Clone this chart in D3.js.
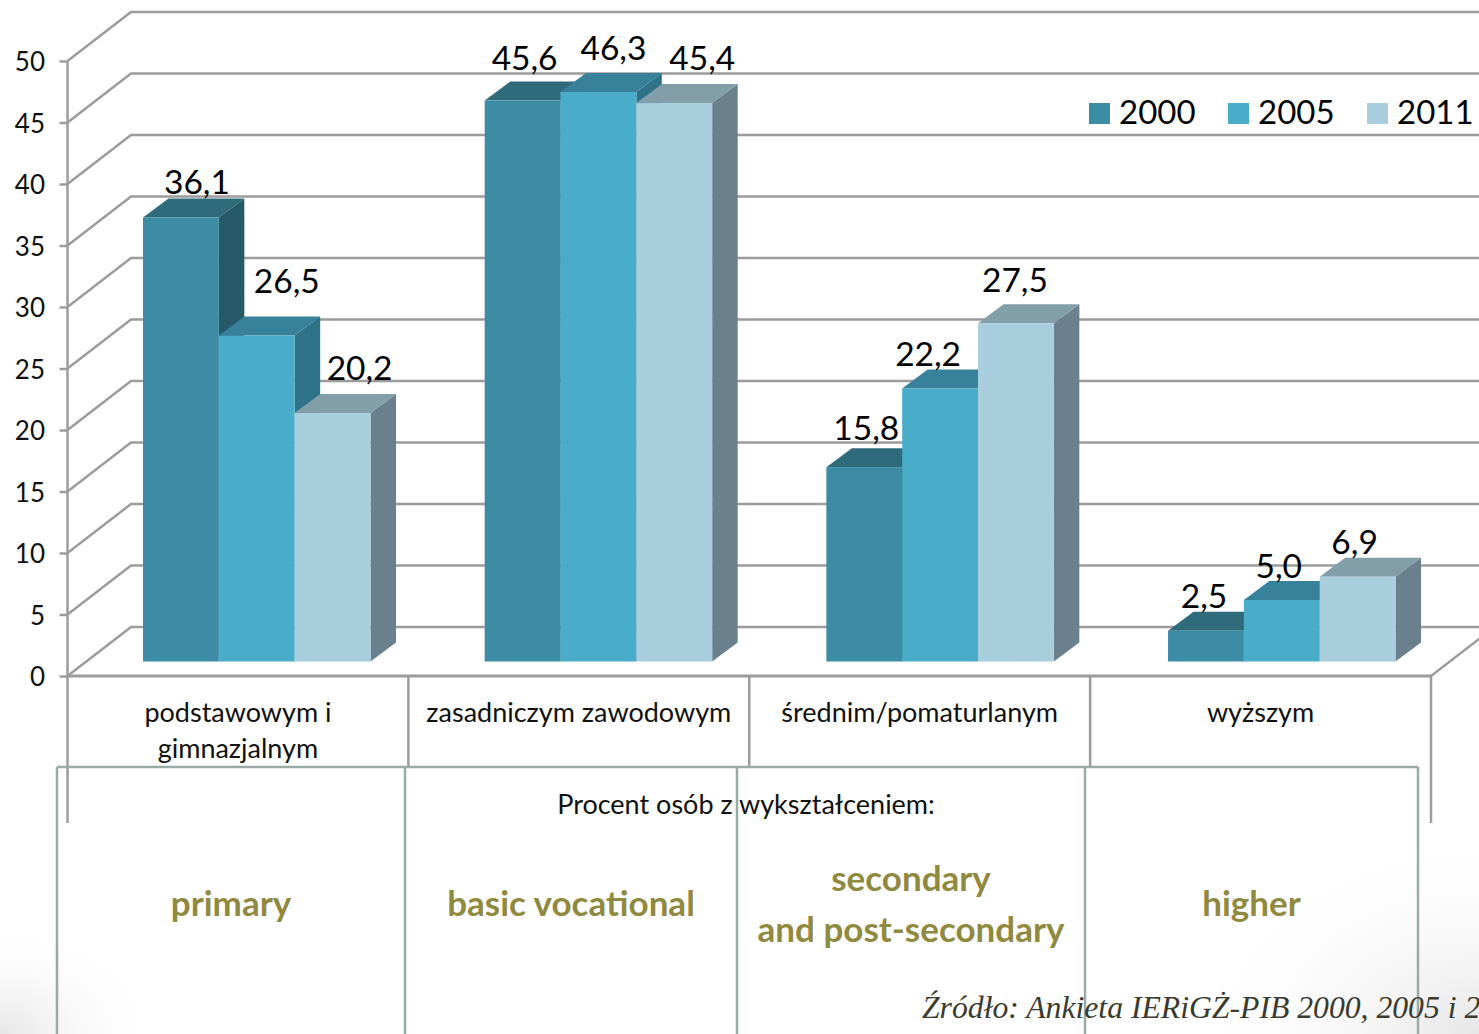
<!DOCTYPE html>
<html><head><meta charset="utf-8">
<script src="https://cdn.jsdelivr.net/npm/d3@7"></script>
<style>html,body{margin:0;padding:0;background:#fff;overflow:hidden}svg{display:block}</style>
</head><body><svg id="c" width="1479" height="1034"></svg>
<script>
const categories = ["podstawowym i|gimnazjalnym","zasadniczym zawodowym","średnim/pomaturlanym","wyższym"];
const years = ["2000","2005","2011"];
const values2000 = [36.1,45.6,15.8,2.5];
const values2005 = [26.5,46.3,22.2,5.0];
const values2011 = [20.2,45.4,27.5,6.9];
const seriesValues = [values2000,values2005,values2011];
const yTicks = [0,5,10,15,20,25,30,35,40,45,50];
const englishLabels = ["primary","basic vocational","secondary|and post-secondary","higher"];
const tableEdges = [57,405,737,1085,1418];
const axisTitle = "Procent osób z wykształceniem:";
const sourceText = "Źródło: Ankieta IERiGŻ-PIB 2000, 2005 i 2011";
// label nudges from the bar's front-top-centre [dx,dy]
const labelNudge = [
 [[16,-23],[30,-43],[27,-33]],
 [[2,-31],[15,-32],[28,-33]],
 [[2,-27],[-12,-22],[-1,-31]],
 [[-2,-23],[-3,-22],[-3,-23]]];

const W=1479,H=1034;
const colors = [
 {front:"#3d8ca6",top:"#2f6b7b",side:"#275a69"},
 {front:"#49adc9",top:"#37819a",side:"#2f7388"},
 {front:"#a9cfdf",top:"#829ea9",side:"#6a808c"}];
const fmt = v => d3.format(".1f")(v).replace(".",",");
const svg = d3.select("#c");
const font = "Lato, 'Noto Sans', sans-serif";

const defs = svg.append("defs");
[["gl","0%","100%"],["gr","100%","100%"]].forEach(([id,cx,cy])=>{
  const g = defs.append("radialGradient").attr("id",id).attr("cx",cx).attr("cy",cy)
    .attr("r",id==="gl"?"0.11":"0.2");
  g.append("stop").attr("offset","0%").attr("stop-color","#e6e6e6");
  g.append("stop").attr("offset","100%").attr("stop-color","#fff").attr("stop-opacity",0);
});
svg.append("rect").attr("width",W).attr("height",H).attr("fill","#fff");
svg.append("rect").attr("width",W).attr("height",H).attr("fill","url(#gl)");
svg.append("rect").attr("width",W).attr("height",H).attr("fill","url(#gr)");

const y = d3.scaleLinear().domain([0,50]).range([676,61]);
const x0 = d3.scaleBand().domain(d3.range(categories.length)).range([67.5,1431]);
const xGroup = d3.scaleBand().domain(d3.range(categories.length)).range([143,1509.7]);
const x1 = d3.scaleBand().domain(d3.range(years.length)).range([0,227.5]);
const wall = {dx:63.5,dy:-49}, barDepth = {dx:25.5,dy:-19}, barLift = 14.5;
const gridColor = "#9c9c9c";

const grid = svg.append("g").attr("fill","none").attr("stroke",gridColor).attr("stroke-width",2.5);
yTicks.forEach(t=>{
  const p = d3.path();
  p.moveTo(67.5,y(t));
  p.lineTo(67.5+wall.dx,y(t)+wall.dy);
  p.lineTo(W,y(t)+wall.dy);
  grid.append("path").attr("d",p.toString());
});
grid.append("line").attr("x1",1431).attr("y1",y(0)).attr("x2",1431+wall.dx).attr("y2",y(0)+wall.dy);

const barsG = svg.append("g");
categories.forEach((c,ci)=>{
  years.forEach((yr,si)=>{
    const v = seriesValues[si][ci];
    const xl = xGroup(ci)+x1(si), w = x1.bandwidth();
    const yt = y(v)-barLift, yb = y(0)-barLift;
    const {dx,dy} = barDepth;
    const g = barsG.append("g");
    g.append("polygon").attr("fill",colors[si].side)
      .attr("points",[[xl+w,yt],[xl+w+dx,yt+dy],[xl+w+dx,yb+dy],[xl+w,yb]].join(" "));
    g.append("polygon").attr("fill",colors[si].top)
      .attr("points",[[xl,yt],[xl+dx,yt+dy],[xl+w+dx,yt+dy],[xl+w,yt]].join(" "));
    g.append("rect").attr("x",xl).attr("y",yt).attr("width",w).attr("height",yb-yt).attr("fill",colors[si].front);
  });
});

const axisG = svg.append("g").attr("transform","translate(67.5,0)")
  .call(d3.axisLeft(y).tickValues(yTicks).tickSize(8).tickPadding(14.5).tickFormat(d3.format("d")));
axisG.selectAll("path,line").attr("stroke",gridColor).attr("stroke-width",2.5);
axisG.select(".domain").attr("d",`M0,${y(50)}V${y(0)}`);
axisG.selectAll("text").attr("font-family",font).attr("font-size",26).attr("fill","#111").attr("dy","0.38em");

svg.append("line").attr("x1",67.5).attr("x2",1431).attr("y1",y(0)).attr("y2",y(0)).attr("stroke",gridColor).attr("stroke-width",3);
d3.range(categories.length+1).forEach(i=>{
  const xx = i<categories.length? x0(i): x0.range()[1];
  const end = (i===0||i===categories.length)?823:767;
  svg.append("line").attr("x1",xx).attr("x2",xx).attr("y1",y(0)).attr("y2",end).attr("stroke",gridColor).attr("stroke-width",2.5);
});

categories.forEach((c,i)=>{
  c.split("|").forEach((ln,k)=>{
    svg.append("text").attr("x",x0(i)+x0.bandwidth()/2).attr("y",722+k*36)
      .attr("text-anchor","middle").attr("font-family",font).attr("font-size",27).attr("fill","#111").text(ln);
  });
});

const tbl = svg.append("g").attr("stroke","#9aaba6").attr("stroke-width",2.5).attr("fill","none");
tbl.append("line").attr("x1",tableEdges[0]).attr("x2",tableEdges[4]).attr("y1",767).attr("y2",767);
tableEdges.forEach(e=>tbl.append("line").attr("x1",e).attr("x2",e).attr("y1",767).attr("y2",H));

englishLabels.forEach((c,i)=>{
  const cx=(tableEdges[i]+tableEdges[i+1])/2;
  const lines=c.split("|");
  lines.forEach((ln,k)=>{
    svg.append("text").attr("x",cx).attr("y",(lines.length>1?891:916)+k*51)
      .attr("text-anchor","middle").attr("font-family",font).attr("font-weight",700).attr("font-size",35).attr("fill","#8f8a40").text(ln);
  });
});

svg.append("text").attr("x",746).attr("y",814).attr("text-anchor","middle").attr("font-family",font).attr("font-size",27).attr("fill","#111").text(axisTitle);
svg.append("text").attr("x",922).attr("y",1018).attr("font-family","'Liberation Serif',serif").attr("font-style","italic").attr("font-size",31.7).attr("fill","#3a3a2e").text(sourceText);

categories.forEach((c,ci)=>{
  years.forEach((yr,si)=>{
    const v=seriesValues[si][ci];
    const n=labelNudge[ci][si];
    svg.append("text").attr("x",xGroup(ci)+x1(si)+x1.bandwidth()/2+n[0]).attr("y",y(v)-barLift+n[1])
      .attr("text-anchor","middle").attr("font-family",font).attr("font-size",33.5).attr("fill","#000").text(fmt(v));
  });
});

const legendX = d3.scalePoint().domain(years).range([1089,1367]);
years.forEach((yr,i)=>{
  svg.append("rect").attr("x",legendX(yr)).attr("y",103).attr("width",21).attr("height",21).attr("fill",colors[i].front);
  svg.append("text").attr("x",legendX(yr)+30).attr("y",124).attr("font-family",font).attr("font-size",33).attr("fill","#000").text(yr);
});
</script></body></html>
